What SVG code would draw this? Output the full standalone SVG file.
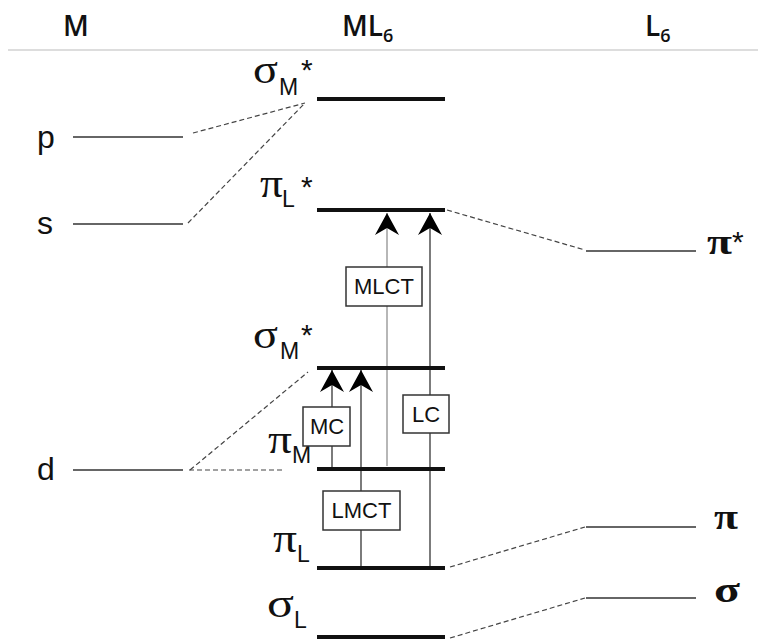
<svg xmlns="http://www.w3.org/2000/svg" width="758" height="641" viewBox="0 0 758 641">
<style>
.hdr{font-family:"Open Sans","DejaVu Sans",sans-serif;font-size:28px;font-weight:600;fill:#111}
.hsub{font-family:"Open Sans","DejaVu Sans",sans-serif;font-size:18px;font-weight:600;fill:#111}
.orb{font-family:"Liberation Sans",Arial,sans-serif;font-size:32px;fill:#111}
.gk{font-family:"Liberation Serif","Times New Roman",serif;font-size:41px;fill:#111}
.gkr{font-family:"Liberation Serif","Times New Roman",serif;font-size:36px;font-weight:bold;fill:#111}
.sub{font-family:"Liberation Sans",Arial,sans-serif;font-size:23px;fill:#111}
.star{font-family:"Liberation Sans",Arial,sans-serif;font-size:30px;fill:#111}
.bar{stroke:#111;stroke-width:4}
.thin{stroke:#333;stroke-width:1.6}
.dash{stroke:#444;stroke-width:1.2;stroke-dasharray:5,3;fill:none}
.box{fill:#fff;stroke:#333;stroke-width:1.5}
.btxt{font-family:"Liberation Sans",Arial,sans-serif;font-size:22px;fill:#111;text-anchor:middle}
.arr{stroke:#444;stroke-width:1.4;fill:none;marker-end:url(#ah)}
.arrg{stroke:#999;stroke-width:1.4;fill:none;marker-end:url(#ah)}
</style>
<defs>
<marker id="ah" viewBox="0 0 22 24" markerWidth="22" markerHeight="24" refX="22" refY="12" orient="auto" markerUnits="userSpaceOnUse">
<path d="M22,12 L0,0 L7,12 L0,24 Z" fill="#000"/>
</marker>
</defs>
<rect width="758" height="641" fill="#fff"/>

<g id="header">
<line x1="8" y1="50" x2="758" y2="50" stroke="#ddd" stroke-width="2"/>
<text class="hdr" x="63" y="36">M</text>
<text class="hdr" x="342" y="36">ML<tspan class="hsub" dy="6">6</tspan></text>
<text class="hdr" x="645" y="36">L<tspan class="hsub" dy="6">6</tspan></text>
</g>

<g id="M-p"><line class="thin" x1="73" y1="137" x2="183" y2="137"/><text class="orb" x="37" y="148">p</text></g>
<g id="M-s"><line class="thin" x1="73" y1="224" x2="183" y2="224"/><text class="orb" x="37" y="234">s</text></g>
<g id="M-d"><line class="thin" x1="73" y1="470" x2="183" y2="470"/><text class="orb" x="37" y="480">d</text></g>

<g id="L-pistar"><line class="thin" x1="586" y1="251" x2="696" y2="251"/><text class="gkr" x="707" y="254" textLength="25" lengthAdjust="spacingAndGlyphs">π</text><text class="star" x="732" y="252">*</text></g>
<g id="L-pi"><line class="thin" x1="586" y1="527" x2="696" y2="527"/><text class="gkr" x="714" y="529" textLength="24" lengthAdjust="spacingAndGlyphs">π</text></g>
<g id="L-sigma"><line class="thin" x1="586" y1="598" x2="696" y2="598"/><text class="gkr" x="714" y="602" textLength="26" lengthAdjust="spacingAndGlyphs">σ</text></g>

<g id="connectors">
<line class="dash" x1="193" y1="133" x2="305" y2="103"/>
<line class="dash" x1="188" y1="223" x2="305" y2="103"/>
<line class="dash" x1="190" y1="470" x2="308" y2="372"/>
<line class="dash" x1="189" y1="470" x2="284" y2="470"/>
<line class="dash" x1="447" y1="210" x2="585" y2="250"/>
<line class="dash" x1="450" y1="567" x2="585" y2="527"/>
<line class="dash" x1="450" y1="638" x2="585" y2="598"/>
<line class="arr" x1="332" y1="468" x2="332" y2="370"/>
<line class="arr" x1="361" y1="566" x2="361" y2="370"/>
<line class="arrg" x1="387" y1="466" x2="387" y2="213"/>
<line class="arr" x1="430" y1="566" x2="430" y2="213"/>
</g>

<g id="ML6-sigmaMstar-top"><line class="bar" x1="317" y1="99" x2="445" y2="99"/><text class="gk" x="253" y="83" textLength="25" lengthAdjust="spacingAndGlyphs">σ</text><text class="sub" x="279" y="95">M</text><text class="star" x="301" y="80">*</text></g>
<g id="ML6-piLstar"><line class="bar" x1="317" y1="210" x2="445" y2="210"/><text class="gk" x="260" y="197" textLength="23" lengthAdjust="spacingAndGlyphs">π</text><text class="sub" x="282" y="207">L</text><text class="star" x="301" y="197">*</text></g>
<g id="ML6-sigmaMstar"><line class="bar" x1="317" y1="368" x2="445" y2="368"/><text class="gk" x="253" y="348" textLength="25" lengthAdjust="spacingAndGlyphs">σ</text><text class="sub" x="280" y="359">M</text><text class="star" x="301" y="345">*</text></g>
<g id="ML6-piM"><line class="bar" x1="317" y1="469" x2="445" y2="469"/><text class="gk" x="268" y="453" textLength="24" lengthAdjust="spacingAndGlyphs">π</text><text class="sub" x="292" y="463">M</text></g>
<g id="ML6-piL"><line class="bar" x1="317" y1="568" x2="445" y2="568"/><text class="gk" x="273" y="552" textLength="24" lengthAdjust="spacingAndGlyphs">π</text><text class="sub" x="297" y="562">L</text></g>
<g id="ML6-sigmaL"><line class="bar" x1="317" y1="637" x2="445" y2="637"/><text class="gk" x="267" y="617" textLength="27" lengthAdjust="spacingAndGlyphs">σ</text><text class="sub" x="294" y="628">L</text></g>

<g id="MLCT"><rect class="box" x="346" y="267" width="76" height="39"/><text class="btxt" x="384" y="294">MLCT</text></g>
<g id="MC"><rect class="box" x="303" y="407" width="47" height="39"/><text class="btxt" x="327" y="434">MC</text></g>
<g id="LC"><rect class="box" x="403" y="395" width="46" height="38"/><text class="btxt" x="426" y="422">LC</text></g>
<g id="LMCT"><rect class="box" x="323" y="491" width="77" height="39"/><text class="btxt" x="361.5" y="518">LMCT</text></g>
</svg>
